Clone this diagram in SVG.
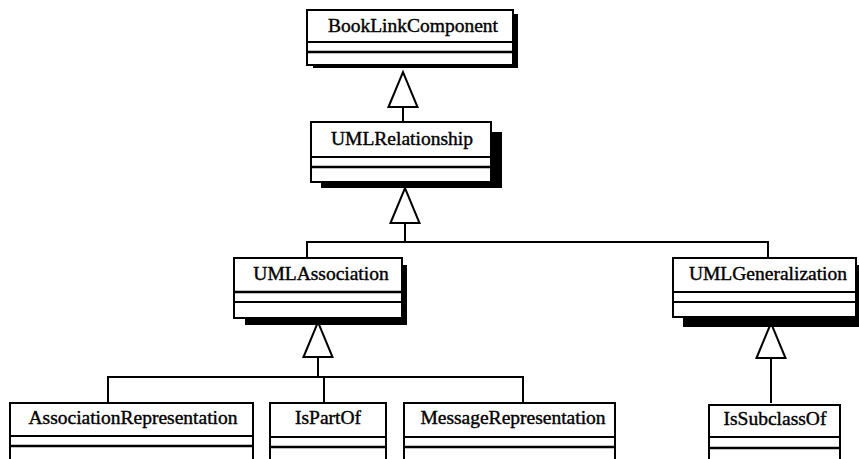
<svg xmlns="http://www.w3.org/2000/svg" width="859" height="459" viewBox="0 0 859 459">
  <style>
    .box { fill: #fff; stroke: #000; stroke-width: 2; }
    .shadow { fill: #000; }
    .div { stroke: #000; stroke-width: 2; }
    .div2 { stroke: #000; stroke-width: 2.5; }
    .lbl { font-family: "Liberation Serif", "Times New Roman", serif; font-size: 19.5px; fill: #000; stroke: #000; stroke-width: 0.4; text-anchor: middle; }
    .conn { fill: none; stroke: #000; stroke-width: 2; }
    .gen { fill: none; stroke: #000; stroke-width: 2; marker-end: url(#inherit); }
  </style>
  <defs>
    <!-- hollow generalization arrowhead -->
    <marker id="inherit" markerUnits="userSpaceOnUse" markerWidth="36" markerHeight="30" refX="35" refY="14.5" orient="auto" style="overflow:visible">
      <path d="M0,0 L35,14.5 L0,29 Z" fill="#fff" stroke="#000" stroke-width="2" stroke-linejoin="miter"/>
    </marker>
  </defs>

  <!-- connectors -->
  <g id="connectors">
    <path class="gen" d="M403,122 V72"/>
    <path class="gen" d="M405,242 V188"/>
    <path class="conn" d="M307,258 V242 H768 V258"/>
    <path class="gen" d="M318,377 V322"/>
    <path class="conn" d="M108,403 V377 H523 V403"/>
    <path class="conn" d="M324,377 V403"/>
    <path class="gen" d="M771,403 V323"/>
  </g>

  <g id="BookLinkComponent">
    <rect class="shadow" x="313" y="14" width="205" height="54"/>
    <rect class="box" x="307" y="10" width="206" height="55"/>
    <line class="div" x1="307" y1="42" x2="513" y2="42"/>
    <line class="div2" x1="307" y1="52" x2="513" y2="52"/>
    <text class="lbl" x="413" y="32">BookLinkComponent</text>
  </g>

  <g id="UMLRelationship">
    <rect class="shadow" x="321" y="132" width="181" height="56"/>
    <rect class="box" x="311" y="122" width="180" height="60"/>
    <line class="div" x1="311" y1="157" x2="491" y2="157"/>
    <line class="div2" x1="311" y1="167" x2="491" y2="167"/>
    <text class="lbl" x="402" y="145">UMLRelationship</text>
  </g>

  <g id="UMLAssociation">
    <rect class="shadow" x="245" y="265" width="162" height="60"/>
    <rect class="box" x="234" y="258" width="168" height="60"/>
    <line class="div2" x1="234" y1="292" x2="402" y2="292"/>
    <line class="div" x1="234" y1="302" x2="402" y2="302"/>
    <text class="lbl" x="321" y="280">UMLAssociation</text>
  </g>

  <g id="UMLGeneralization">
    <rect class="shadow" x="683" y="265" width="180" height="62"/>
    <rect class="box" x="673" y="258" width="183" height="59"/>
    <line class="div" x1="673" y1="292" x2="856" y2="292"/>
    <line class="div" x1="673" y1="302" x2="856" y2="302"/>
    <text class="lbl" x="768" y="280">UMLGeneralization</text>
  </g>

  <g id="AssociationRepresentation">
    <rect class="box" x="10" y="403" width="243" height="70"/>
    <line class="div" x1="10" y1="436" x2="253" y2="436"/>
    <line class="div2" x1="10" y1="446" x2="253" y2="446"/>
    <text class="lbl" x="133" y="424">AssociationRepresentation</text>
  </g>

  <g id="IsPartOf">
    <rect class="box" x="270" y="403" width="116" height="70"/>
    <line class="div" x1="270" y1="437" x2="386" y2="437"/>
    <line class="div2" x1="270" y1="447" x2="386" y2="447"/>
    <text class="lbl" x="328" y="424">IsPartOf</text>
  </g>

  <g id="MessageRepresentation">
    <rect class="box" x="404" y="403" width="211" height="70"/>
    <line class="div" x1="404" y1="437" x2="615" y2="437"/>
    <line class="div2" x1="404" y1="447" x2="615" y2="447"/>
    <text class="lbl" x="513" y="424">MessageRepresentation</text>
  </g>

  <g id="IsSubclassOf">
    <rect class="box" x="709" y="405" width="131" height="70"/>
    <line class="div" x1="709" y1="437" x2="840" y2="437"/>
    <line class="div2" x1="709" y1="448" x2="840" y2="448"/>
    <text class="lbl" x="775" y="425">IsSubclassOf</text>
  </g>
</svg>
